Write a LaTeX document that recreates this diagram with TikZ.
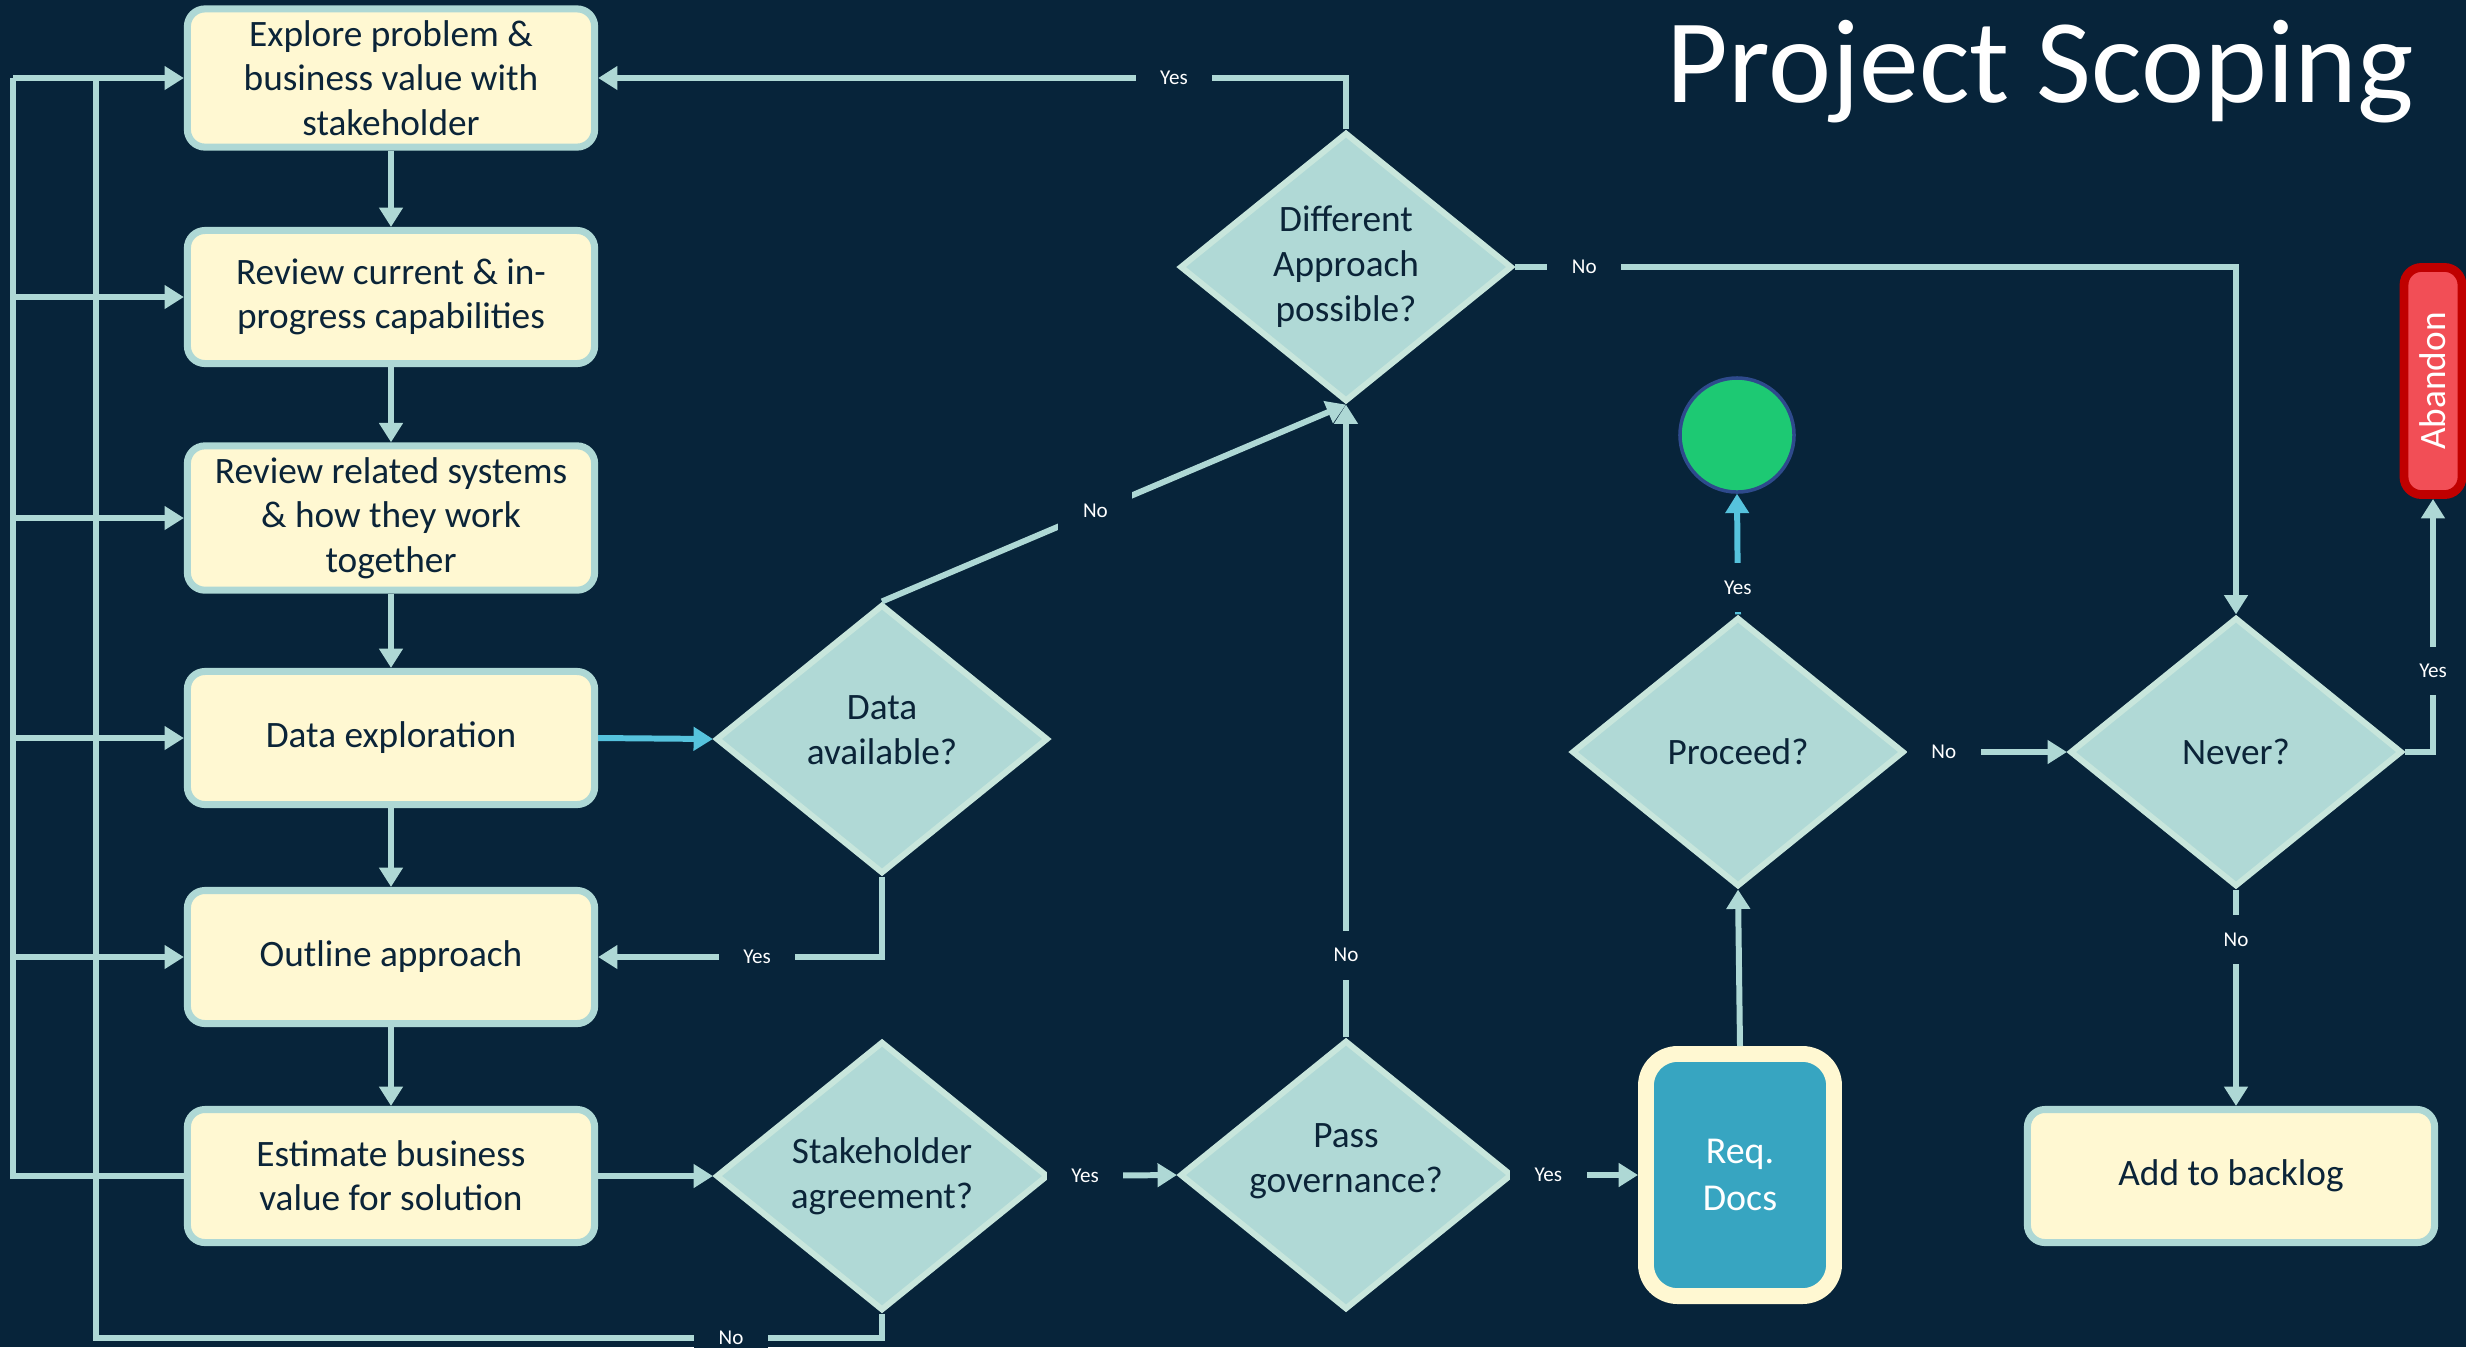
\documentclass[tikz,border=0pt]{standalone}
\usepackage{fontspec}
\setmainfont{Carlito}
\usepackage{xcolor}
\usetikzlibrary{shapes,arrows.meta,positioning,calc}
\definecolor{bg}{HTML}{07243A}
\definecolor{lineclr}{HTML}{AED8D5}
\definecolor{boxfill}{HTML}{FFF8D2}
\definecolor{dfill}{HTML}{B0D9D6}
\definecolor{dline}{HTML}{C8E6DC}
\definecolor{navy}{HTML}{0B2438}
\definecolor{reqfill}{HTML}{37A5C1}
\definecolor{cyanarr}{HTML}{56C3DD}
\definecolor{okgreen}{HTML}{1DC973}
\definecolor{okline}{HTML}{2E4A8C}
\definecolor{abnfill}{HTML}{F24E56}
\definecolor{abnline}{HTML}{C00000}

\begin{document}
\begin{tikzpicture}[x=0.01cm,y=-0.01cm,
    >={Triangle[length=5.5pt,width=6.5pt]},
    box/.style={draw=lineclr,fill=boxfill,line width=2pt,rounded corners=5pt,
        minimum width=4.07cm,minimum height=1.33cm,align=center,text=navy,
        font=\fontsize{10.6}{12.6}\selectfont},
    decision/.style={shape=diamond,draw=dline,fill=dfill,line width=1.7pt,
        minimum width=3.32cm,minimum height=2.69cm,inner sep=0pt,align=center,
        text=navy,font=\fontsize{10.6}{12.8}\selectfont},
    conn/.style={draw=lineclr,line width=1.7pt},
    lbl/.style={fill=bg,text=white,inner xsep=7pt,inner ysep=5pt,
        font=\fontsize{6}{7}\selectfont}]
    % Background
    \fill[bg] (0,0) rectangle (2466,1347);
    \useasboundingbox (0,0) rectangle (2466,1347);
    % Title
    \node[anchor=base,text=white,font=\fontsize{34}{40}\selectfont] (title) at (2040,102) {Project Scoping};
    % Steps
    \node[box] (b1) at (391,78) {Explore problem \&\\business value with\\stakeholder};
    \node[box] (b2) at (391,297) {Review current \& in-\\progress capabilities};
    \node[box] (b3) at (391,518) {Review related systems\\\& how they work\\together};
    \node[box] (b4) at (391,738) {Data exploration};
    \node[box] (b5) at (391,957) {Outline approach};
    \node[box] (b6) at (391,1176) {Estimate business\\value for solution};
    \node[box] (bkl) at (2231,1176) {Add to backlog};
    % Decisions
    \node[decision,text depth=5pt] (dav) at (882,739) {Data\\available?};
    \node[decision] (sta) at (882,1176) {Stakeholder\\agreement?};
    \node[decision] (dap) at (1346,267) {Different\\Approach\\possible?};
    \node[decision,text height=11.5pt] (pgv) at (1346,1175) {Pass\\governance?};
    \node[decision] (prc) at (1738,752) {Proceed?};
    \node[decision] (nev) at (2236,752) {Never?};
    % Ends
    \node[draw=boxfill,fill=reqfill,line width=4.5pt,rounded corners=9pt,minimum width=1.88cm,
        minimum height=2.42cm,align=center,text=white,font=\fontsize{10.8}{13.4}\selectfont]
        (req) at (1740,1175) {Req.\\Docs};
    \node[circle,fill=okgreen,draw=okline,line width=1pt,minimum size=1.14cm] (done) at (1737,435) {};
    \node[draw=abnline,fill=abnfill,line width=2.5pt,rounded corners=5pt,minimum width=2.27cm,
        minimum height=0.58cm,rotate=90,text=white,font=\fontsize{10.6}{12}\selectfont]
        (abn) at (2433,381) {Abandon};
    % Main flow
    \foreach \a/\b in {b1/b2,b2/b3,b3/b4,b4/b5,b5/b6}
        \draw[conn,->] (\a.south) -- (\b.north);
    \draw[conn,draw=cyanarr,->] (b4.east) -- (dav.west);
    \draw[conn,->] (b6.east) -- (sta.west);
    \draw[conn,->] (dav.south) |- node[lbl,pos=0.72] (ly1) {Yes} (b5.east);
    \draw[conn,->] (dav.north) -- node[lbl,pos=0.46] (ln1) {No} (dap.south);
    \draw[conn,->] (dap.north) |- node[lbl,pos=0.615] (ly2) {Yes} (b1.east);
    \draw[conn,->] (dap.east) -| node[lbl,pos=0.048] (ln2) {No} (nev.north);
    \draw[conn,->] (sta.east) -- node[lbl,pos=0.27] (ly3) {Yes} (pgv.west);
    \draw[conn,->] (pgv.north) -- node[lbl,pos=0.13] (ln3) {No} (dap.south);
    \draw[conn,->] (pgv.east) -- node[lbl,pos=0.27] (ly4) {Yes} (req.west);
    \draw[conn,->] (req.north) -- (prc.south);
    \draw[conn,draw=cyanarr,->] (prc.north) -- node[lbl,pos=0.22] (ly5) {Yes} (done.south);
    \draw[conn,->] (prc.east) -- node[lbl,pos=0.23] (ln4) {No} (nev.west);
    \draw[conn,->] (nev.east) -| node[lbl,pos=0.66] (ly6) {Yes} (abn.west);
    \draw[conn,->] (nev.south) -- node[lbl,pos=0.23] (ln5) {No} (nev.south |- bkl.north);
    % Loops back on the left
    \coordinate (lout) at (13,78);
    \coordinate (lin) at (96,78);
    \draw[conn] (b6.west) -| (lout);
    \foreach \b in {b1,b2,b3,b4,b5}
        \draw[conn,->] (\b.west -| lout) -- (\b.west);
    \draw[conn] (sta.south) |- node[lbl,pos=0.596] (ln6) {No} (96,1338) -- (lin);
\end{tikzpicture}
\end{document}
